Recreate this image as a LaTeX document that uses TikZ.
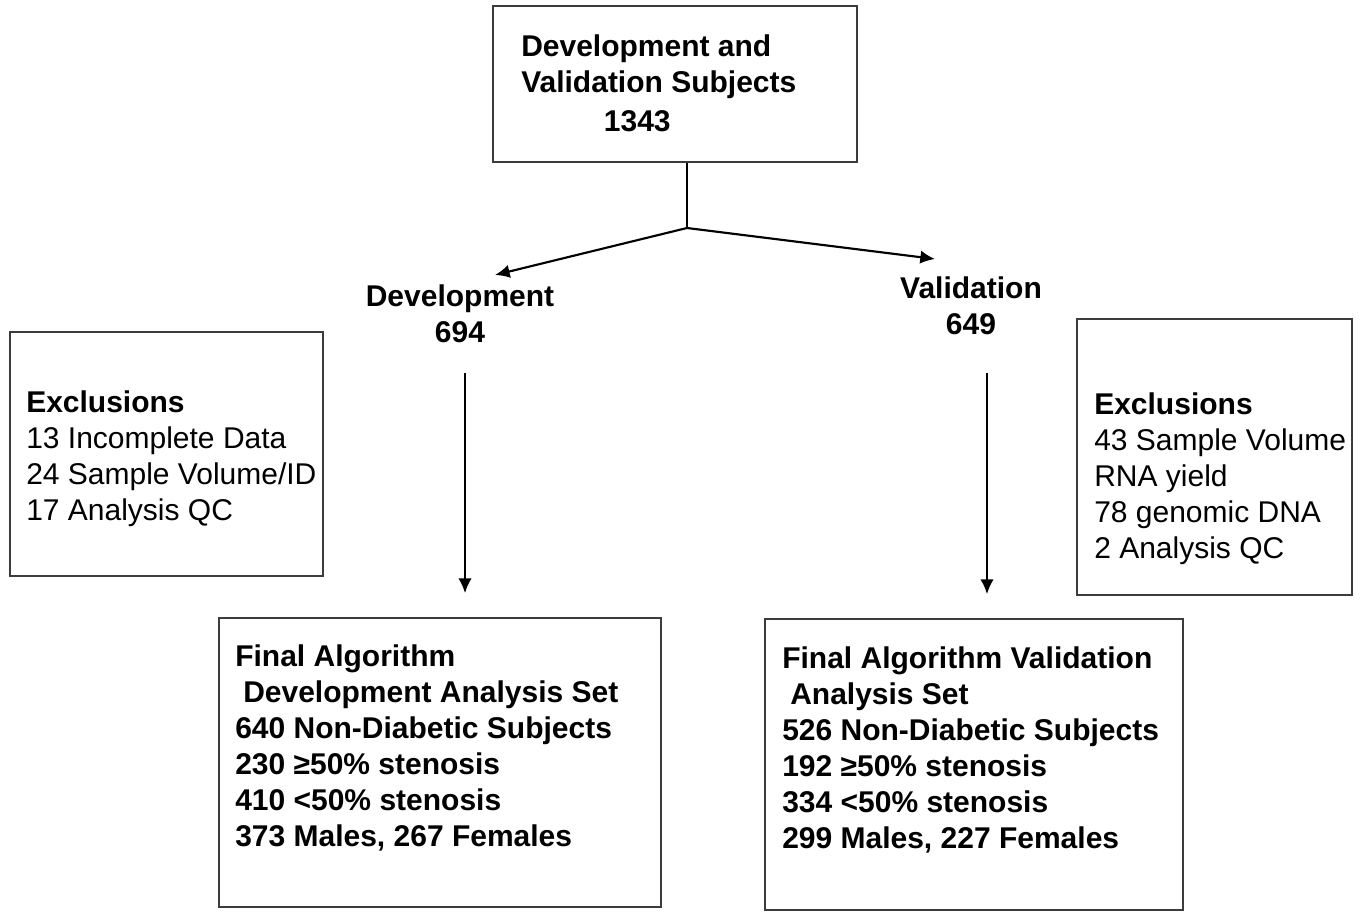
\documentclass[tikz,border=0pt]{standalone}
\usepackage{fontspec}
\setmainfont{Liberation Sans}
\usetikzlibrary{arrows.meta}

\definecolor{boxgray}{RGB}{60,60,60}

\tikzset{
  box/.style={draw=boxgray, line width=1.3pt, inner sep=0pt},
  txt/.style={inner sep=0pt, anchor=north west, align=left,
    font=\fontsize{22.5}{27}\selectfont},
  btxt/.style={txt, font=\fontsize{22.5}{27}\selectfont\bfseries},
  arr/.style={line width=1.6pt, -{Latex[length=11pt, width=10pt]}}
}

\begin{document}
\begin{tikzpicture}[x=0.75pt, y=-0.75pt]
\useasboundingbox (0,0) rectangle (1363,912);

% Top box
\node[box, minimum width=273pt, minimum height=117pt] (all) at (675,84) {};
\node[btxt] (alltxt) at (521,35) {Development and\\Validation Subjects\\[1.5pt]\hspace*{62pt}1343};

% Split labels
\node[btxt, anchor=north, align=center] (dev) at (460,284) {Development\\694};
\node[btxt, anchor=north, align=center] (val) at (971,276) {Validation\\649};

% Exclusion boxes
\node[box, minimum width=234.75pt, minimum height=183pt] (exdev) at (166.5,454) {};
\node[txt] (exdevtxt) at (26,390) {\textbf{Exclusions}\\13 Incomplete Data\\24 Sample Volume/ID\\17 Analysis QC};
\node[box, minimum width=206.25pt, minimum height=207pt] (exval) at (1214.5,457) {};
\node[txt] (exvaltxt) at (1094,392) {\textbf{Exclusions}\\43 Sample Volume\\RNA yield\\78 genomic DNA\\2 Analysis QC};

% Final analysis sets
\node[box, minimum width=331.5pt, minimum height=216.75pt] (devset) at (440,762.5) {};
\node[btxt] (devsettxt) at (235,644) {Final Algorithm\\\hspace*{6pt}Development Analysis Set\\640 Non-Diabetic Subjects\\230 ≥50\% stenosis\\410 <50\% stenosis\\373 Males, 267 Females};
\node[box, minimum width=313.5pt, minimum height=218.25pt] (valset) at (974,764.5) {};
\node[btxt] (valsettxt) at (782,646) {Final Algorithm Validation\\\hspace*{6pt}Analysis Set\\526 Non-Diabetic Subjects\\192 ≥50\% stenosis\\334 <50\% stenosis\\299 Males, 227 Females};

% Connectors
\coordinate (split) at (687,228);
\coordinate (devtip) at (495,275);
\coordinate (valtip) at (935,259);
\coordinate (devout) at (465,373);
\coordinate (valout) at (987,373);
\draw[line width=1.3pt] (all.south -| split) -- (split);
\draw[arr] (split) -- (devtip);
\draw[arr] (split) -- (valtip);
\draw[arr, shorten >=18pt] (devout) -- (devset.north -| devout);
\draw[arr, shorten >=18pt] (valout) -- (valset.north -| valout);
\end{tikzpicture}
\end{document}
